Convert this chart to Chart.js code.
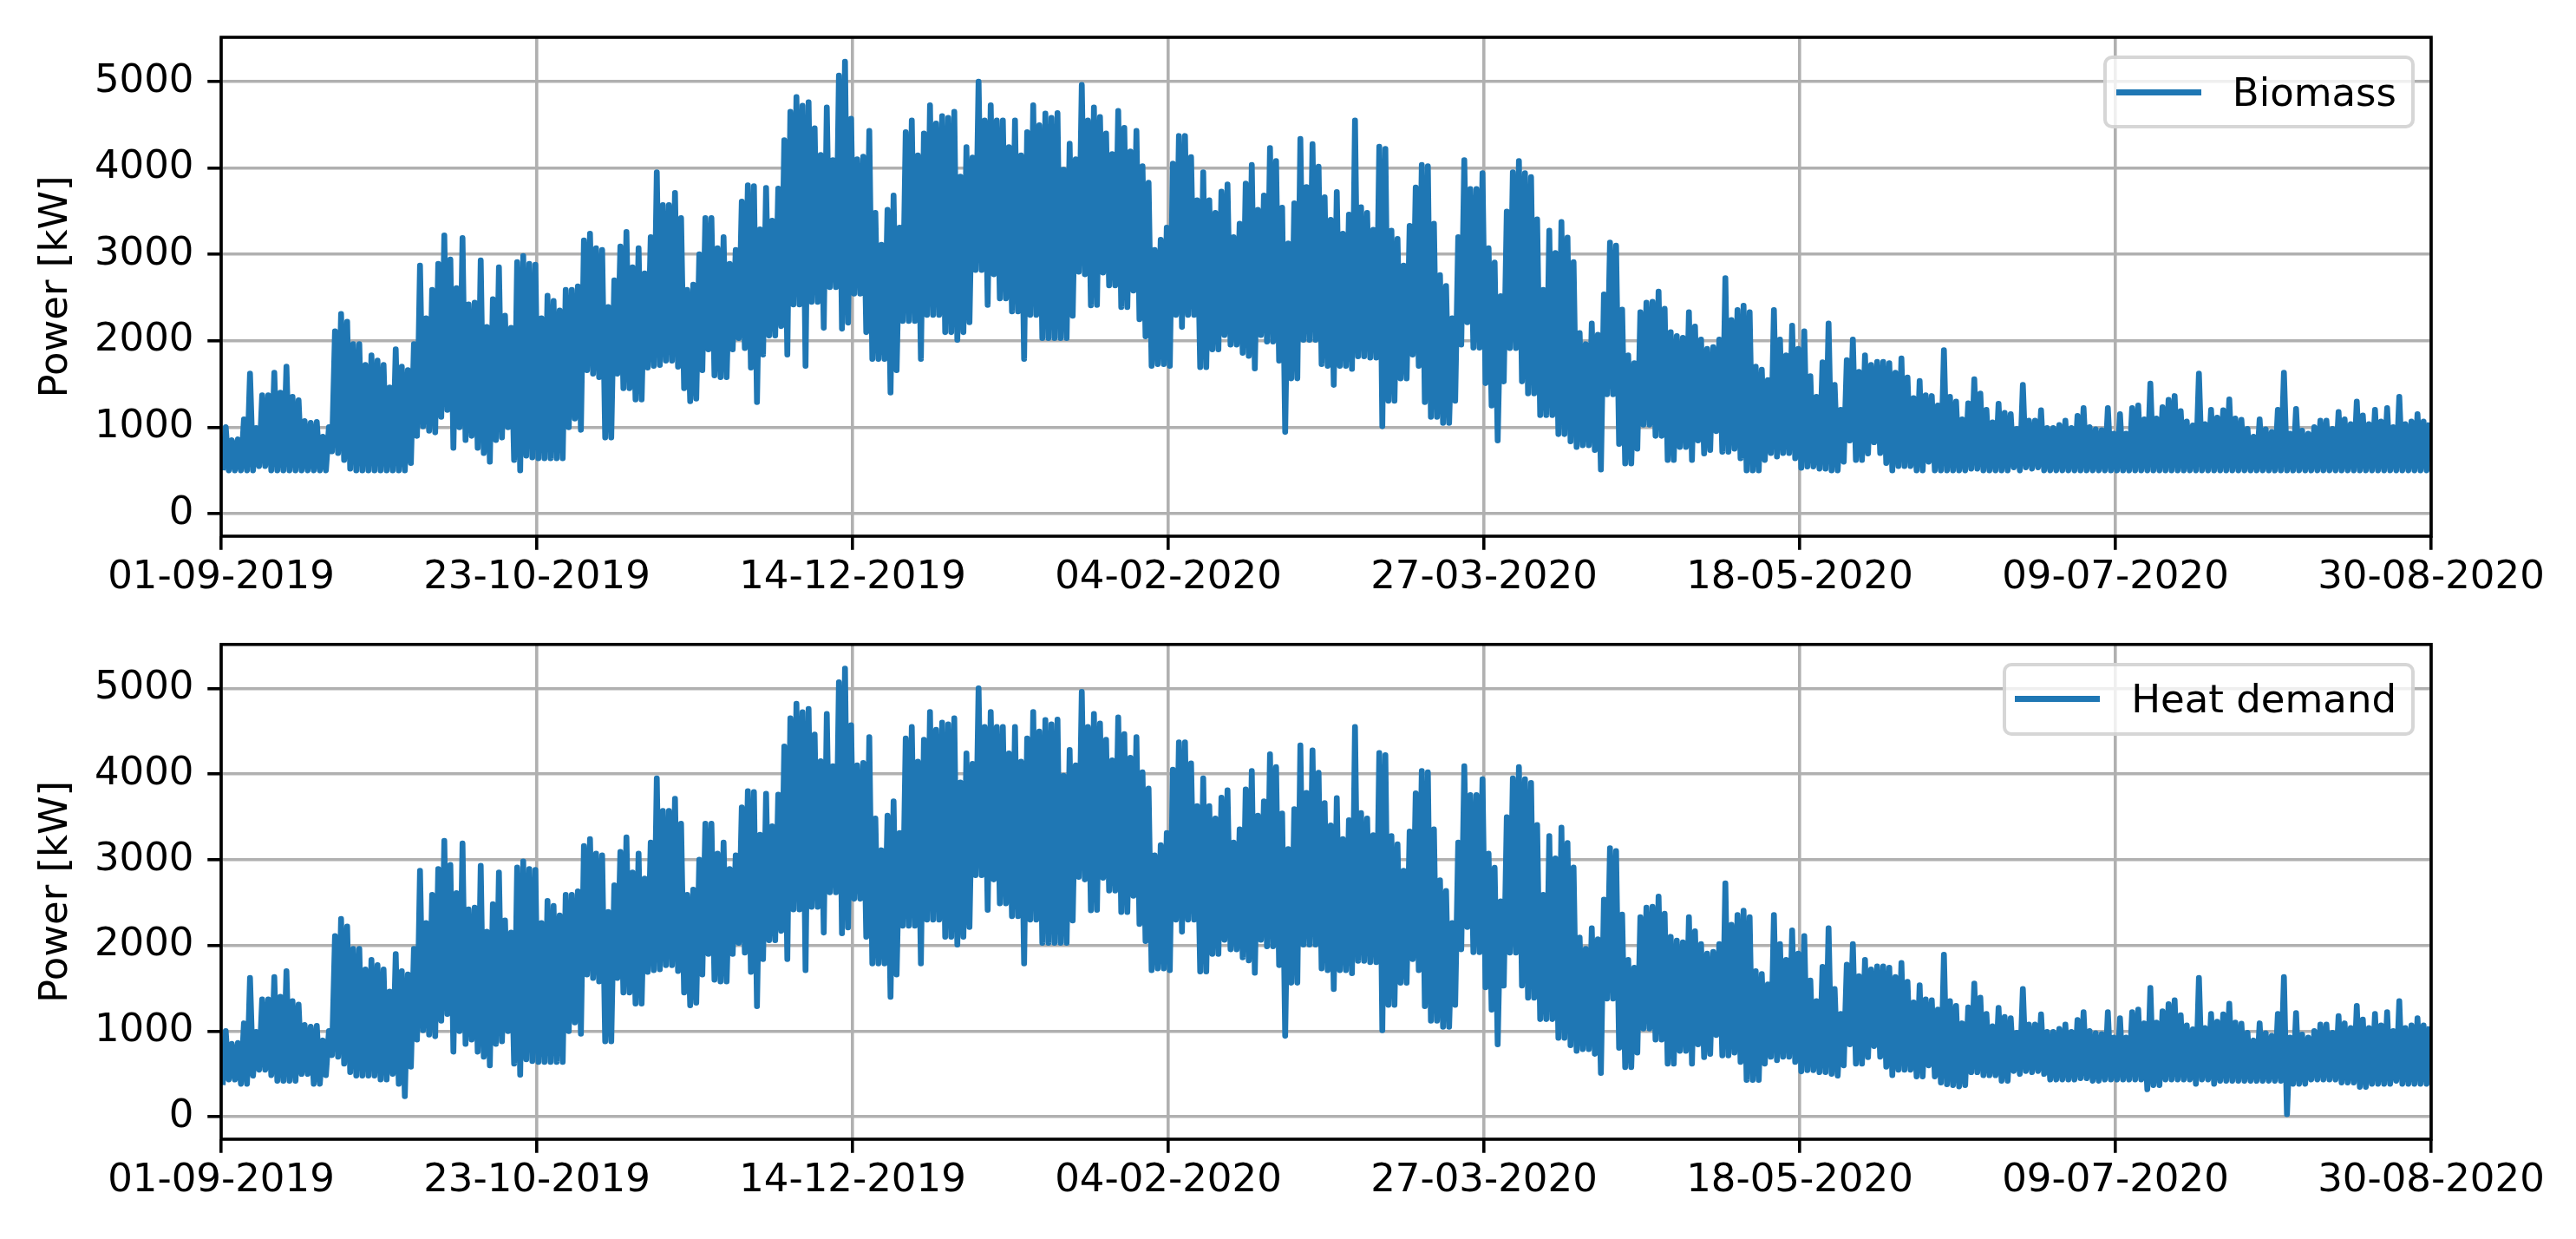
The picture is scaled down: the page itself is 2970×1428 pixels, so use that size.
<!DOCTYPE html>
<html>
<head>
<meta charset="utf-8">
<title>Biomass and heat demand</title>
<script src="https://cdn.jsdelivr.net/npm/chart.js@4.4.1/dist/chart.umd.min.js"></script>
<style>
  html, body { margin: 0; padding: 0; background: #fff; }
  #wrap { position: relative; width: 2970px; height: 1428px; overflow: hidden; }
  canvas { position: absolute; left: 0; }
  .legend {
    position: absolute; box-sizing: border-box; height: 84px;
    display: flex; align-items: center; white-space: nowrap;
    background: rgba(255, 255, 255, 0.8);
    border: 4.5px solid rgba(204, 204, 204, 0.8); border-radius: 10px;
    padding: 0 17px 0 10.5px;
    font: 45px 'DejaVu Sans', sans-serif; color: #000;
  }
  .legend .swatch { display: inline-block; width: 98px; height: 7px; background: #1f77b4; margin-right: 36px; }
</style>
</head>
<body>
<div id="wrap">
  <canvas id="chartBiomass" width="2970" height="714" style="top:0px"></canvas>
  <canvas id="chartHeat" width="2970" height="728" style="top:700px"></canvas>
  <div class="legend" id="legendBiomass"><span class="swatch"></span><span>Biomass</span></div>
  <div class="legend" id="legendHeat"><span class="swatch"></span><span>Heat demand</span></div>
</div>
<script>
// x axis: days since 01-09-2019, ticks every 52 days
const xTickDays = [0, 52, 104, 156, 208, 260, 312, 364];
const xTickLabels = ['01-09-2019', '23-10-2019', '14-12-2019', '04-02-2020',
                     '27-03-2020', '18-05-2020', '09-07-2020', '30-08-2020'];
const yTickValues = [0, 1000, 2000, 3000, 4000, 5000];

// daily peak of the biomass output [kW]
const biomassHigh = [
  1000, 850, 860, 1090, 1620, 990, 1370, 1370, 1630, 1400,
  1700, 1350, 1310, 1070, 1050, 1060, 890, 1000, 2110, 2310,
  2220, 1960, 1960, 1720, 1830, 1770, 1720, 1460, 1900, 1700,
  1660, 1960, 2870, 2260, 2590, 2890, 3220, 2940, 2610, 3190,
  2420, 2440, 2930, 2160, 2480, 2850, 2290, 2150, 2910, 2980,
  2890, 2880,
  2260, 2520, 2460, 2350, 2590, 2590, 2630, 3160, 3240, 3070,
  3050, 2390, 2700, 3090, 3260, 2850, 3070, 2780, 3200, 3950,
  3570, 3570, 3710, 3420, 2590, 2650, 3000, 3420, 3420, 3070,
  3200, 2890, 3050, 3610, 3800, 3790, 3290, 3770, 3390, 3760,
  4320, 4650, 4820, 4720, 4760, 4460, 4150, 4700, 4090, 5070,
  5230, 4570,
  4100, 4130, 4430, 3480, 3110, 3515, 3680, 3310, 4415, 4550,
  4145, 4400, 4725, 4515, 4600, 4580, 4650, 3900, 4240, 4120,
  5000, 4550, 4725, 4550, 4550, 4240, 4550, 4145, 4415, 4725,
  4495, 4630, 4580, 4635, 3980, 4280, 4100, 4960, 4550, 4700,
  4590, 4400, 4160, 4660, 4465, 4190, 4430, 4020, 3830, 3050,
  3170, 3310,
  4050, 4370, 4370, 4125, 3625, 3950, 3625, 3480, 3725, 3810,
  3200, 3355, 3820, 4035, 3515, 3680, 4230, 4080, 3540, 3125,
  3590, 4335, 3780, 4275, 4015, 3660, 3400, 3720, 3240, 3460,
  4550, 3545, 3480, 3285, 4245, 4220, 3275, 3180, 2870, 3330,
  3775, 4035, 4020, 3355, 2760, 2635, 2260, 3200, 4090, 3755,
  3755, 3940,
  3070, 2905, 2515, 3495, 3950, 4080, 3940, 3895, 3405, 2590,
  3275, 3015, 3375, 3195, 2910, 2090, 1960, 2200, 2070, 2535,
  3135, 3100, 2360, 1830, 1740, 2330, 2440, 2450, 2570, 2370,
  2100, 2055, 2035, 2330, 2165, 2015, 1905, 1925, 2015, 2725,
  2240, 2355, 2405, 2330, 1700, 1665, 1545, 2355, 2015, 1830,
  2175, 1905,
  2110, 1590, 1350, 1750, 2200, 1490, 1200, 1775, 2015, 1640,
  1830, 1720, 1755, 1755, 1740, 1630, 1795, 1575, 1335, 1535,
  1370, 1360, 1250, 1890, 1350, 1295, 1090, 1275, 1555, 1390,
  1200, 1055, 1270, 1165, 1150, 980, 1490, 1075, 1075, 1195,
  990, 990, 1025, 1075, 990, 1130, 1220, 1000, 975, 965,
  1220, 925,
  1150, 925, 1220, 1250, 1090, 1505, 1100, 1230, 1315, 1360,
  1185, 1065, 1020, 1620, 1035, 1200, 1110, 1195, 1320, 1100,
  1085, 980, 890, 1090, 975, 945, 1200, 1630, 925, 1210,
  960, 925, 1000, 1075, 1075, 980, 1175, 1090, 1035, 1295,
  1135, 1035, 1200, 1065, 1220, 1000, 1350, 1035, 1065, 1150,
  1065, 1055
];

// daily minimum of the biomass output [kW] (boiler does not go below ~500)
const biomassLow = [
  500, 500, 500, 500, 500, 500, 550, 550, 500, 500,
  500, 500, 500, 500, 500, 500, 500, 500, 720, 700,
  620, 520, 500, 500, 500, 500, 500, 500, 500, 500,
  500, 585,
  900, 1010, 960, 940, 1120, 1200, 760, 1000,
  850, 900, 760, 700, 600, 850, 880, 1000, 620, 500,
  670, 650,
  640, 640, 640, 640, 640, 1000, 1100, 970, 1660, 1620,
  1580, 880, 880, 1620, 1450, 1450, 1320, 1320, 1690, 1710,
  1720, 1770, 1770, 1700, 1450, 1300, 1330, 1660, 1900, 1600,
  1580, 1580, 1900, 2030, 1915, 1690, 1290, 1840, 2060, 2060,
  2170, 1840, 2420, 2420, 1710, 2450, 2450, 2150, 2620, 2620,
  2140, 2210,
  2545, 2545, 2100, 1790, 1790, 1790, 1400, 1660, 2230, 2230,
  2230, 1790, 2300, 2300, 2300, 2100, 2100, 2010, 2100, 2215,
  2820, 2820, 2415, 2770, 2490, 2490, 2340, 2340, 1790, 2300,
  2300, 2030, 2030, 2030, 2030, 2030, 2290, 2800, 2770, 2410,
  2415, 2790, 2640, 2640, 2390, 2390, 2580, 2250, 2050, 1710,
  1730, 1730,
  1710, 2300, 2160, 2300, 2300, 1695, 1695, 1900, 1900, 2065,
  1955, 1955, 1860, 1825, 1680, 2065, 1990, 1990, 1770, 945,
  1565, 1565, 2010, 2010, 2010, 1730, 1710, 1490, 1710, 1710,
  1675, 1820, 1820, 1805, 1805, 1010, 1305, 1305, 1565, 1565,
  1840, 1710, 1290, 1120, 1120, 1050, 1050, 1305, 1955, 2215,
  1920, 1920,
  1510, 1250, 845, 1530, 1915, 1915, 1530, 1390, 1390, 1140,
  1140, 1140, 920, 920, 835, 770, 790, 790, 735, 510,
  1380, 1380, 805, 580, 580, 750, 1030, 1030, 900, 900,
  620, 620, 770, 770, 620, 845, 695, 735, 955, 715,
  715, 750, 640, 500, 500, 500, 620, 700, 660, 700,
  700, 640,
  530, 545, 545, 520, 520, 500, 500, 600, 845, 620,
  620, 695, 825, 700, 585, 500, 550, 550, 550, 500,
  500, 600, 500, 500, 500, 500, 500, 500, 520, 520,
  500, 500, 500, 500, 500, 535, 500, 535, 520, 535,
  500, 500, 500, 500, 500, 500, 500, 500, 500, 500,
  500, 500,
  500, 500, 500, 500, 500, 500, 500, 500, 500, 500,
  500, 500, 500, 500, 500, 500, 500, 500, 500, 500,
  500, 500, 500, 500, 500, 500, 500, 500, 500, 500,
  500, 500, 500, 500, 500, 500, 500, 500, 500, 500,
  500, 500, 500, 500, 500, 500, 500, 500, 500, 500,
  500, 500
];

// daily peak of the heat demand [kW]
const heatHigh = [
  1000, 850, 860, 1090, 1620, 990, 1370, 1370, 1630, 1400,
  1700, 1350, 1310, 1070, 1050, 1060, 890, 1000, 2110, 2310,
  2220, 1960, 1960, 1720, 1830, 1770, 1720, 1460, 1900, 1700,
  1660, 1960, 2870, 2260, 2590, 2890, 3220, 2940, 2610, 3190,
  2420, 2440, 2930, 2160, 2480, 2850, 2290, 2150, 2910, 2980,
  2890, 2880,
  2260, 2520, 2460, 2350, 2590, 2590, 2630, 3160, 3240, 3070,
  3050, 2390, 2700, 3090, 3260, 2850, 3070, 2780, 3200, 3950,
  3570, 3570, 3710, 3420, 2590, 2650, 3000, 3420, 3420, 3070,
  3200, 2890, 3050, 3610, 3800, 3790, 3290, 3770, 3390, 3760,
  4320, 4650, 4820, 4720, 4760, 4460, 4150, 4700, 4090, 5070,
  5230, 4570,
  4100, 4130, 4430, 3480, 3110, 3515, 3680, 3310, 4415, 4550,
  4145, 4400, 4725, 4515, 4600, 4580, 4650, 3900, 4240, 4120,
  5000, 4550, 4725, 4550, 4550, 4240, 4550, 4145, 4415, 4725,
  4495, 4630, 4580, 4635, 3980, 4280, 4100, 4960, 4550, 4700,
  4590, 4400, 4160, 4660, 4465, 4190, 4430, 4020, 3830, 3050,
  3170, 3310,
  4050, 4370, 4370, 4125, 3625, 3950, 3625, 3480, 3725, 3810,
  3200, 3355, 3820, 4035, 3515, 3680, 4230, 4080, 3540, 3125,
  3590, 4335, 3780, 4275, 4015, 3660, 3400, 3720, 3240, 3460,
  4550, 3545, 3480, 3285, 4245, 4220, 3275, 3180, 2870, 3330,
  3775, 4035, 4020, 3355, 2760, 2635, 2260, 3200, 4090, 3755,
  3755, 3940,
  3070, 2905, 2515, 3495, 3950, 4080, 3940, 3895, 3405, 2590,
  3275, 3015, 3375, 3195, 2910, 2090, 1960, 2200, 2070, 2535,
  3135, 3100, 2360, 1830, 1740, 2330, 2440, 2450, 2570, 2370,
  2100, 2055, 2035, 2330, 2165, 2015, 1905, 1925, 2015, 2725,
  2240, 2355, 2405, 2330, 1700, 1665, 1545, 2355, 2015, 1830,
  2175, 1905,
  2110, 1590, 1350, 1750, 2200, 1490, 1200, 1775, 2015, 1640,
  1830, 1720, 1755, 1755, 1740, 1630, 1795, 1575, 1335, 1535,
  1370, 1360, 1250, 1890, 1350, 1295, 1090, 1275, 1555, 1390,
  1200, 1055, 1270, 1165, 1150, 980, 1490, 1075, 1075, 1195,
  990, 990, 1025, 1075, 990, 1130, 1220, 1000, 975, 965,
  1220, 925,
  1150, 925, 1220, 1250, 1090, 1505, 1100, 1230, 1315, 1360,
  1185, 1065, 1020, 1620, 1035, 1200, 1110, 1195, 1320, 1100,
  1085, 980, 890, 1090, 975, 945, 1200, 1630, 925, 1210,
  960, 925, 1000, 1075, 1075, 980, 1175, 1090, 1035, 1295,
  1135, 1035, 1200, 1065, 1220, 1000, 1350, 1035, 1065, 1150,
  1065, 1055
];

// daily minimum of the heat demand [kW]
const heatLow = [
  370, 435, 435, 385, 385, 480, 550, 550, 485, 420,
  420, 420, 420, 500, 500, 385, 385, 485, 720, 700,
  620, 520, 480, 480, 480, 480, 435, 435, 500, 385,
  240, 585,
  900, 1010, 960, 940, 1120, 1200, 760, 1000,
  850, 900, 760, 700, 600, 850, 880, 1000, 620, 490,
  670, 650,
  640, 640, 640, 640, 640, 1000, 1100, 970, 1660, 1620,
  1580, 880, 880, 1620, 1450, 1450, 1320, 1320, 1690, 1710,
  1720, 1770, 1770, 1700, 1450, 1300, 1330, 1660, 1900, 1600,
  1580, 1580, 1900, 2030, 1915, 1690, 1290, 1840, 2060, 2060,
  2170, 1840, 2420, 2420, 1710, 2450, 2450, 2150, 2620, 2620,
  2140, 2210,
  2545, 2545, 2100, 1790, 1790, 1790, 1400, 1660, 2230, 2230,
  2230, 1790, 2300, 2300, 2300, 2100, 2100, 2010, 2100, 2215,
  2820, 2820, 2415, 2770, 2490, 2490, 2340, 2340, 1790, 2300,
  2300, 2030, 2030, 2030, 2030, 2030, 2290, 2800, 2770, 2410,
  2415, 2790, 2640, 2640, 2390, 2390, 2580, 2250, 2050, 1710,
  1730, 1730,
  1710, 2300, 2160, 2300, 2300, 1695, 1695, 1900, 1900, 2065,
  1955, 1955, 1860, 1825, 1680, 2065, 1990, 1990, 1770, 945,
  1565, 1565, 2010, 2010, 2010, 1730, 1710, 1490, 1710, 1710,
  1675, 1820, 1820, 1805, 1805, 1010, 1305, 1305, 1565, 1565,
  1840, 1710, 1290, 1120, 1120, 1050, 1050, 1305, 1955, 2215,
  1920, 1920,
  1510, 1250, 845, 1530, 1915, 1915, 1530, 1390, 1390, 1140,
  1140, 1140, 920, 920, 835, 770, 790, 790, 735, 510,
  1380, 1380, 805, 580, 580, 750, 1030, 1030, 900, 900,
  620, 620, 770, 770, 620, 845, 695, 735, 955, 715,
  715, 750, 640, 430, 430, 430, 620, 700, 660, 700,
  700, 640,
  530, 545, 545, 520, 520, 500, 480, 600, 845, 620,
  620, 695, 825, 700, 585, 485, 550, 550, 550, 470,
  470, 600, 470, 400, 380, 370, 355, 370, 520, 520,
  485, 485, 485, 420, 420, 535, 500, 535, 520, 535,
  500, 435, 435, 435, 435, 435, 450, 450, 420, 420,
  435, 435,
  435, 435, 435, 435, 435, 320, 370, 370, 435, 435,
  435, 435, 435, 385, 435, 435, 385, 420, 420, 420,
  420, 420, 420, 420, 420, 420, 420, 420, 30, 385,
  385, 385, 435, 435, 435, 435, 435, 400, 400, 400,
  350, 350, 385, 385, 385, 385, 420, 385, 385, 385,
  385, 385
];

Chart.defaults.font.family = "'DejaVu Sans', sans-serif";
Chart.defaults.font.size = 45;
Chart.defaults.color = '#000';

const PAGE_W = 2970;
const PLOT_LEFT = 255;
const PLOT_RIGHT = 2803;

// hourly data swings between the daily low and the daily high
function dailySwing(lows, highs) {
  const pts = [];
  for (let d = 0; d < highs.length; d++) {
    pts.push({ x: d + 0.25, y: lows[d] });
    pts.push({ x: d + 0.75, y: highs[d] });
  }
  return pts;
}

// matplotlib-like box around the axes
const axesFrame = {
  id: 'axesFrame',
  afterDatasetsDraw(chart) {
    const { ctx, chartArea: a } = chart;
    ctx.save();
    ctx.strokeStyle = '#000';
    ctx.lineWidth = 3.6;
    ctx.strokeRect(a.left, a.top, a.right - a.left, a.bottom - a.top);
    ctx.restore();
  }
};

function makeChart(canvasId, label, lows, highs, box) {
  const top = box.plotTop - box.canvasTop;
  const bottom = box.plotBottom - box.canvasTop;
  const gridStyle = { color: '#b0b0b0', lineWidth: 3.6, tickColor: '#000', tickWidth: 3.6, tickLength: 15.75 };

  return new Chart(document.getElementById(canvasId), {
    type: 'line',
    data: {
      datasets: [{
        label: label,
        data: dailySwing(lows, highs),
        borderColor: '#1f77b4',
        borderWidth: 6.7,
        borderJoinStyle: 'round',
        pointRadius: 0,
        tension: 0,
        fill: false
      }]
    },
    options: {
      responsive: false,
      animation: false,
      devicePixelRatio: 1,
      parsing: false,
      normalized: true,
      events: [],
      layout: { padding: { left: 0, top: top, right: PAGE_W - PLOT_RIGHT, bottom: 0 } },
      plugins: { legend: { display: false }, tooltip: { enabled: false } },
      scales: {
        x: {
          type: 'linear',
          min: 0,
          max: 364,
          afterBuildTicks: s => { s.ticks = xTickDays.map(v => ({ value: v })); },
          afterFit: s => { s.height = box.canvasHeight - bottom; },
          grid: gridStyle,
          border: { display: false },
          ticks: {
            autoSkip: false, maxRotation: 0, minRotation: 0, padding: 6,
            callback: v => xTickLabels[xTickDays.indexOf(v)]
          }
        },
        y: {
          min: -262,
          max: 5512,
          afterBuildTicks: s => { s.ticks = yTickValues.map(v => ({ value: v })); },
          afterFit: s => { s.width = PLOT_LEFT; },
          grid: gridStyle,
          border: { display: false },
          ticks: { padding: 15.75, callback: v => String(v) },
          title: { display: true, text: 'Power [kW]', padding: { top: 38, bottom: 0 } }
        }
      }
    },
    plugins: [axesFrame]
  });
}

function placeLegend(id, chart, canvasTop) {
  const a = chart.chartArea;
  const el = document.getElementById(id);
  el.style.right = (PAGE_W - (a.right - 19)) + 'px';
  el.style.top = (canvasTop + a.top + 21) + 'px';
}

const biomassChart = makeChart('chartBiomass', 'Biomass', biomassLow, biomassHigh,
  { canvasTop: 0, canvasHeight: 714, plotTop: 43, plotBottom: 618 });
const heatChart = makeChart('chartHeat', 'Heat demand', heatLow, heatHigh,
  { canvasTop: 700, canvasHeight: 728, plotTop: 733, plotBottom: 1313 });

placeLegend('legendBiomass', biomassChart, 0);
placeLegend('legendHeat', heatChart, 700);
</script>
</body>
</html>
